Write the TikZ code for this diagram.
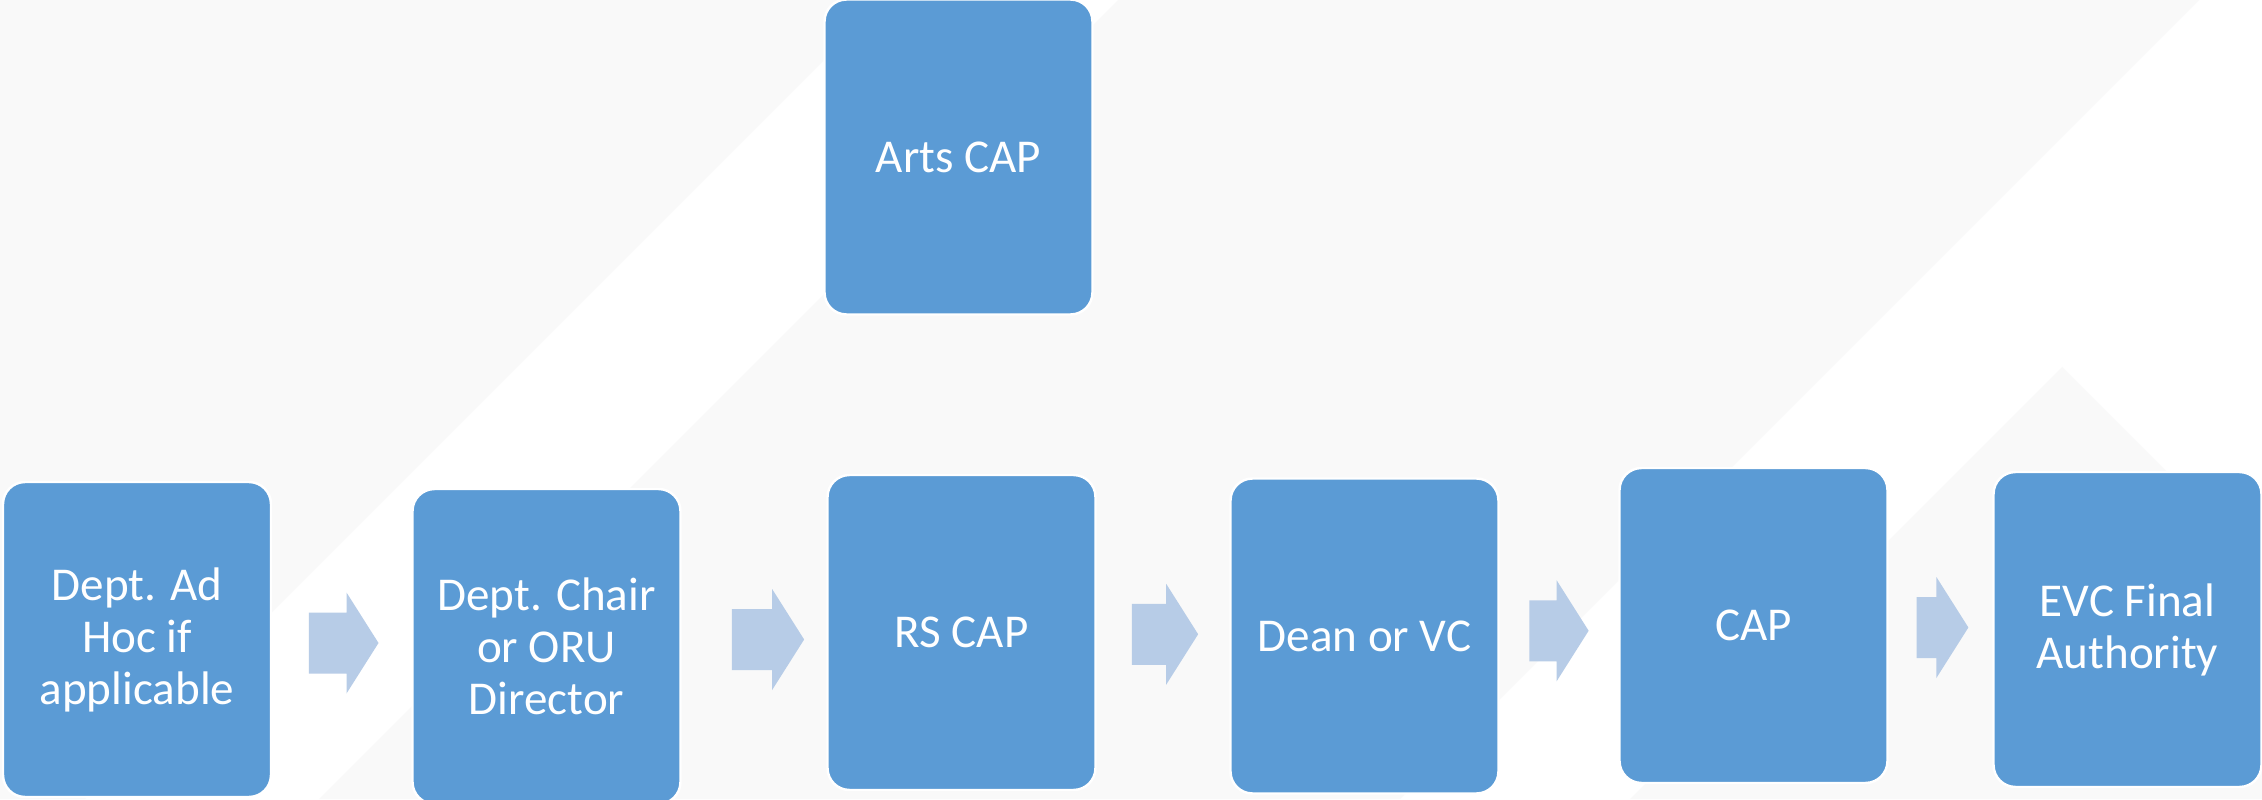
\documentclass[tikz,border=0pt]{standalone}
\usepackage{fontspec}
\usepackage{tikz}
\usetikzlibrary{math,calc}
\newfontfamily\boxfont{Carlito}
\definecolor{boxblue}{RGB}{91,155,213}
\definecolor{flowblue}{RGB}{183,204,231}
\definecolor{bggray}{RGB}{249,249,249}

\begin{document}
\begin{tikzpicture}[
    box/.style={rectangle, rounded corners=0.22cm, fill=boxblue, draw=white, line width=0.7pt,
      minimum width=2.68cm, minimum height=3.15cm, align=center, text=white,
      font=\boxfont\fontsize{13.4}{14.8}\selectfont},
    flow/.style={fill=flowblue, to path={
      ($(\tikztostart)+(0,\sh)$) -- ($(\tikztotarget)+(-\hl,\sh)$) -- ($(\tikztotarget)+(-\hl,\hh)$)
      -- (\tikztotarget) -- ($(\tikztotarget)+(-\hl,-\hh)$) -- ($(\tikztotarget)+(-\hl,-\sh)$)
      -- ($(\tikztostart)+(0,-\sh)$) -- cycle}}]
  \tikzmath{\w = 22.62; \h = 7.99; \sh = 0.305; \hh = 0.505; \hl = 0.32;}
  \useasboundingbox (0,0) rectangle (\w,\h);
  \fill[white] (0,0) rectangle (\w,\h);
  \fill[bggray] (0,\h) -- (8.84,\h) -- (0.85,0) -- (0,0) -- cycle;
  \fill[bggray] (11.18,\h) -- (21.99,\h) -- (14.00,0) -- (3.19,0) -- cycle;
  \fill[bggray] (20.62,4.32) -- (\w,2.32) -- (\w,0) -- (16.30,0) -- cycle;
  \node[box] (arts) at (9.585,6.42) {Arts CAP};
  \node[box] (adhoc) at (1.37,1.595) {Dept. Ad\\Hoc if\\applicable};
  \node[box] (chair) at (5.465,1.525) {Dept. Chair\\or ORU\\Director};
  \node[box] (rscap) at (9.615,1.665) {RS CAP};
  \node[box] (dean) at (13.645,1.63) {Dean or VC};
  \node[box] (cap) at (17.535,1.735) {CAP};
  \node[box] (evc) at (21.275,1.695) {EVC Final\\Authority};
  \foreach \p/\q/\d in {adhoc/chair/0.02,chair/rscap/0.14,rscap/dean/0.02,dean/cap/0,cap/evc/0.02} {
    \coordinate (mid) at ($(\p.east)!0.5!(\q.west)+(\d,0)$);
    \coordinate (tail) at ($(\p.east)!0.25!(\q.west)+(\d,0)$);
    \coordinate (tip) at ($(\p.east)!0.75!(\q.west)+(\d,0)$);
    \path[flow] (tail |- mid) to (tip |- mid);
  }
\end{tikzpicture}
\end{document}
